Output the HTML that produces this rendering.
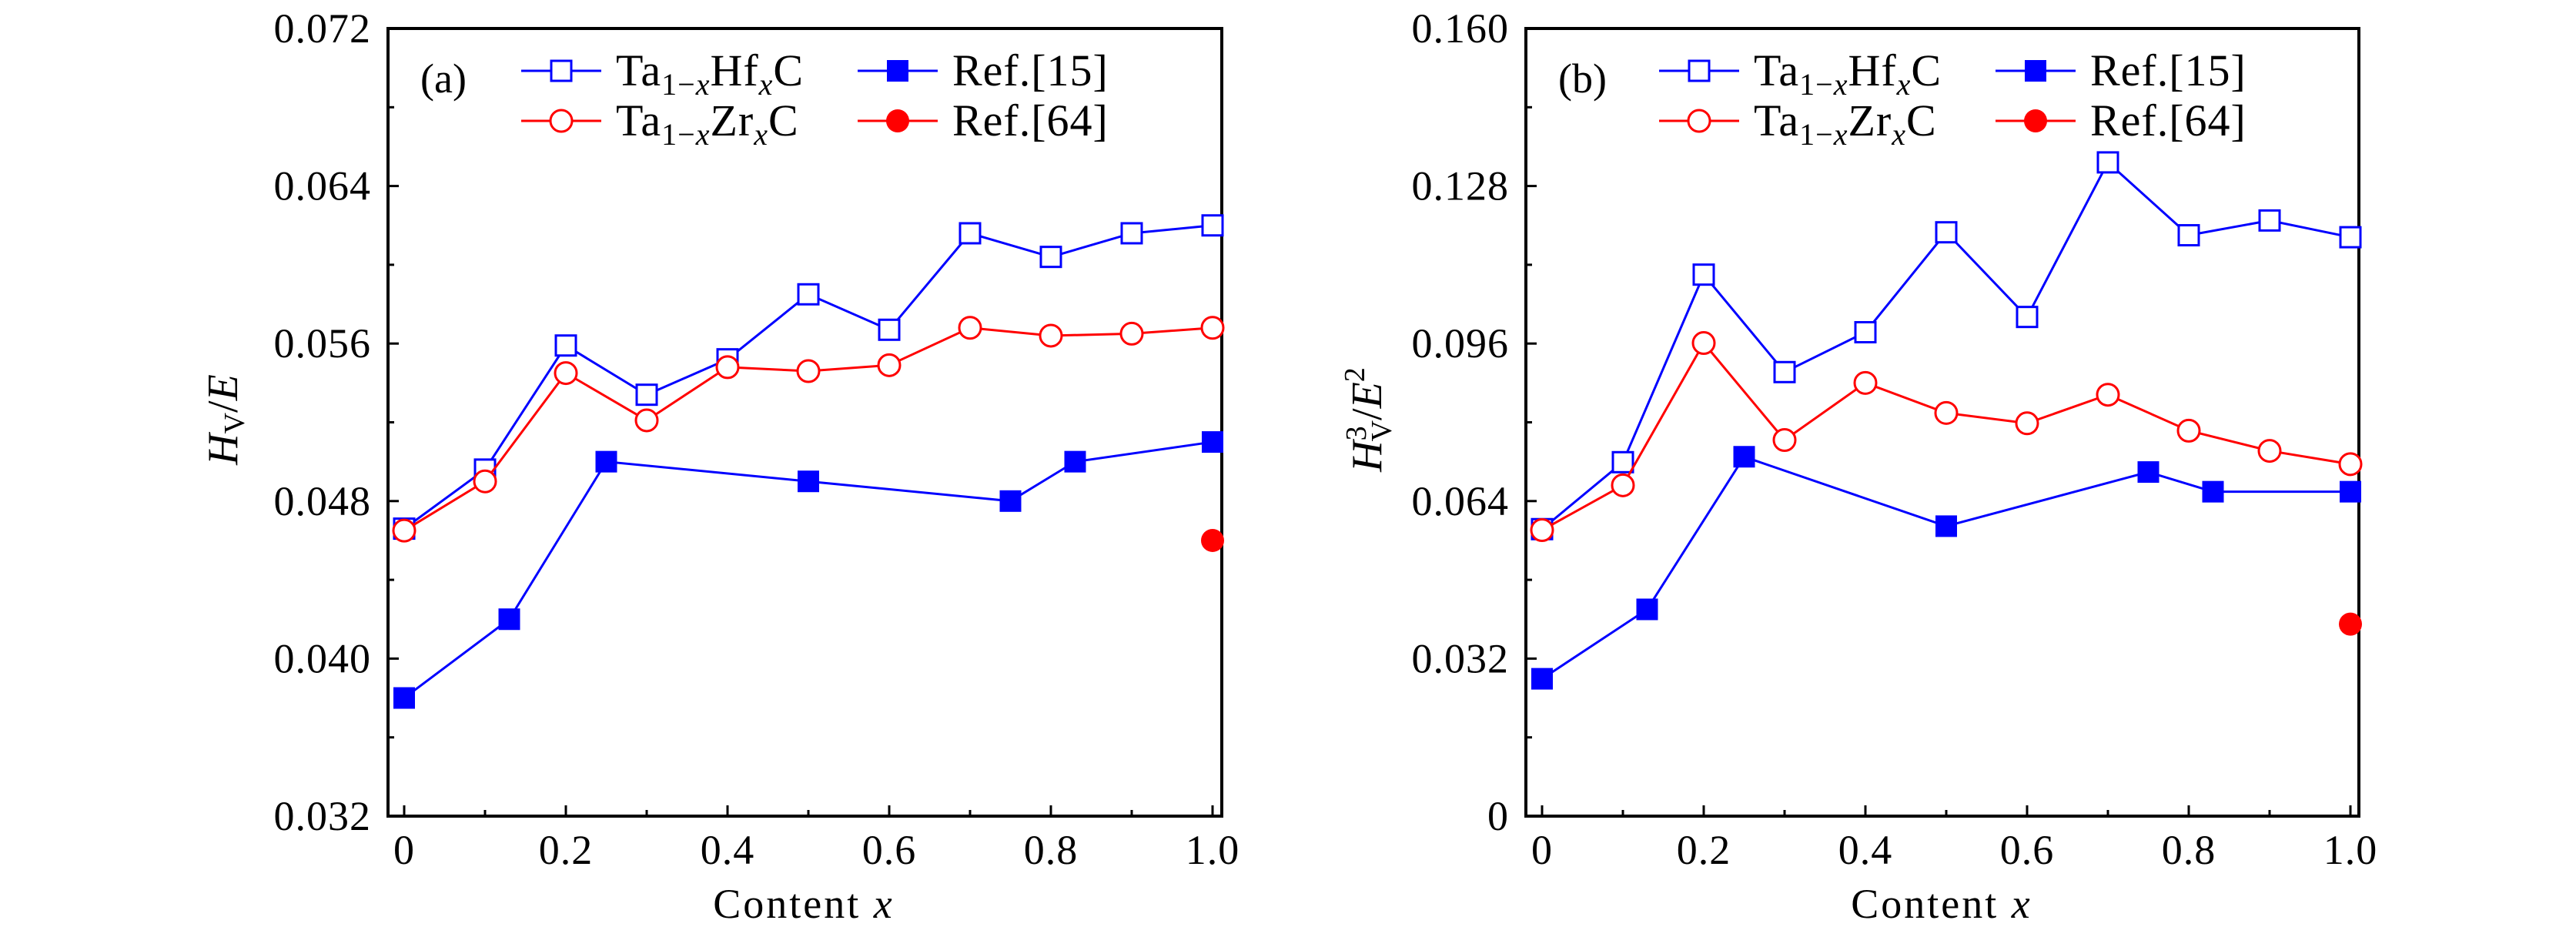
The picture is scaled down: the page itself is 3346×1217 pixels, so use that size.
<!DOCTYPE html>
<html><head><meta charset="utf-8"><style>
html,body{margin:0;padding:0;background:#fff;}
svg{display:block;font-family:"Liberation Serif",serif;}
</style></head><body>
<svg id="fig" width="3346" height="1217" viewBox="0 0 3346 1217" font-family="Liberation Serif, serif"></svg>
<script>
const xsMain = [0,0.1,0.2,0.3,0.4,0.5,0.6,0.7,0.8,0.9,1.0];
const xsRef15 = [0,0.13,0.25,0.5,0.75,0.83,1.0];
const xsRef64 = [1.0];
const xTicks = [0,0.2,0.4,0.6,0.8,1.0];
const xTickLabels = ["0","0.2","0.4","0.6","0.8","1.0"];

const aHf = [0.0466,0.0496,0.0559,0.0534,0.0552,0.0585,0.0567,0.0616,0.0604,0.0616,0.0620];
const aZr = [0.0465,0.0490,0.0545,0.0521,0.0548,0.0546,0.0549,0.0568,0.0564,0.0565,0.0568];
const aRef15 = [0.0380,0.0420,0.0500,0.0490,0.0480,0.0500,0.0510];
const aRef64 = [0.0460];
const aYTicks = [0.032,0.040,0.048,0.056,0.064,0.072];
const aYTickLabels = ["0.032","0.040","0.048","0.056","0.064","0.072"];

const bHf = [0.0583,0.0719,0.110,0.0902,0.0983,0.1186,0.1014,0.1328,0.118,0.121,0.1176];
const bZr = [0.0581,0.0672,0.0961,0.0764,0.0880,0.0819,0.0798,0.0856,0.0783,0.0742,0.0715];
const bRef15 = [0.0279,0.0420,0.0730,0.0589,0.0699,0.0659,0.0659];
const bRef64 = [0.0390];
const bYTicks = [0,0.032,0.064,0.096,0.128,0.160];
const bYTickLabels = ["0","0.032","0.064","0.096","0.128","0.160"];

const NS="http://www.w3.org/2000/svg";
const svg=document.getElementById('fig');
function mk(tag,attrs,parent){const e=document.createElementNS(NS,tag);for(const k in attrs)e.setAttribute(k,attrs[k]);(parent||svg).appendChild(e);return e;}
const BLUE="#0000ff", RED="#ff0000";

function panel(cfg){
  const g=mk('g',{});
  
  
  const L=cfg.left,R=cfg.right,T=37,B=1060,x0=cfg.x0,x1=cfg.x1;
  const ymin=cfg.yTicks[0],ymax=cfg.yTicks[cfg.yTicks.length-1];
  const sx=v=>x0+(x1-x0)*v;
  const sy=v=>B-(B-T)*(v-ymin)/(ymax-ymin);
  const box=mk('rect',{x:L,y:T,width:R-L,height:B-T,fill:'none',stroke:'#000','stroke-width':4},g);
  
  
  for(let i=0;i<cfg.yTicks.length;i++){
    const y=sy(cfg.yTicks[i]);
    mk('line',{x1:L,x2:L+14,y1:y,y2:y,stroke:'#000','stroke-width':3},g);
    if(i<cfg.yTicks.length-1){const ym=sy((cfg.yTicks[i]+cfg.yTicks[i+1])/2);mk('line',{x1:L,x2:L+8,y1:ym,y2:ym,stroke:'#000','stroke-width':3},g);}
    const t=mk('text',{x:L-22,y:y+18,'text-anchor':'end','font-size':54,'letter-spacing':1},g);
    t.textContent=cfg.yTickLabels[i];
    
    
  }
  for(let i=0;i<xTicks.length;i++){
    const x=sx(xTicks[i]);
    mk('line',{x1:x,x2:x,y1:B,y2:B-14,stroke:'#000','stroke-width':3},g);
    if(i<xTicks.length-1){const xm=sx(xTicks[i]+0.1);mk('line',{x1:xm,x2:xm,y1:B,y2:B-8,stroke:'#000','stroke-width':3},g);}
    const t=mk('text',{x:x,y:1122,'text-anchor':'middle','font-size':54,'letter-spacing':1},g);
    t.textContent=xTickLabels[i];
    
    
  }
  const xt=mk('text',{x:sx(0.5)-6,y:1192,'text-anchor':'middle','font-size':54,'letter-spacing':3},g);
  xt.innerHTML='Content <tspan font-style="italic">x</tspan>';
  
  
  const yt=mk('text',{x:0,y:0,'text-anchor':'middle','font-size':56,transform:`translate(${cfg.ytX},545) rotate(-90)`},g);
  yt.innerHTML=cfg.ytHTML;
  
  
  const pl=mk('text',{x:L+42,y:120,'font-size':54},g);
  pl.textContent=cfg.label;
  
  

  function series(xs,ys,color,marker,name,line){
    const sg=mk('g',{},g);
    
    
    if(line){
      const pts=xs.map((x,i)=>sx(x)+','+sy(ys[i])).join(' ');
      const p=mk('polyline',{points:pts,fill:'none',stroke:color,'stroke-width':3},sg);
      
      
    }
    xs.forEach((x,i)=>drawMarker(sg,sx(x),sy(ys[i]),color,marker,name+'-point'));
  }
  series(xsRef15,cfg.ref15,BLUE,'fsq','ref15-series',true);
  series(xsMain,cfg.hf,BLUE,'osq','hf-series',true);
  series(xsMain,cfg.zr,RED,'oci','zr-series',true);
  series(xsRef64,cfg.ref64,RED,'fci','ref64-series',false);

  const lg=mk('g',{},g);
  
  
  const ent=[[BLUE,'osq',0,92,'Ta<tspan font-size="40" dy="12">1−<tspan font-style="italic">x</tspan></tspan><tspan dy="-12">Hf</tspan><tspan font-size="40" dy="12" font-style="italic">x</tspan><tspan dy="-12">C</tspan>'],
             [RED,'oci',0,157,'Ta<tspan font-size="40" dy="12">1−<tspan font-style="italic">x</tspan></tspan><tspan dy="-12">Zr</tspan><tspan font-size="40" dy="12" font-style="italic">x</tspan><tspan dy="-12">C</tspan>'],
             [BLUE,'fsq',437,92,'Ref.[15]'],[RED,'fci',437,157,'Ref.[64]']];
  ent.forEach(e=>{
    const eg=mk('g',{},lg);
    
    
    const lx=L+173+e[2];
    mk('line',{x1:lx,x2:lx+104,y1:e[3],y2:e[3],stroke:e[0],'stroke-width':3},eg);
    drawMarker(eg,lx+52,e[3],e[0],e[1],'legend-marker');
    const t=mk('text',{x:lx+123,y:e[3]+19,'font-size':58,'letter-spacing':1},eg);
    t.innerHTML=e[4];
  });
}
function drawMarker(parent,x,y,color,type,name){
  let m;
  if(type==='osq') m=mk('rect',{x:x-13,y:y-13,width:26,height:26,fill:'#fff',stroke:color,'stroke-width':3},parent);
  else if(type==='fsq') m=mk('rect',{x:x-14,y:y-14,width:28,height:28,fill:color},parent);
  else if(type==='oci') m=mk('circle',{cx:x,cy:y,r:14,fill:'#fff',stroke:color,'stroke-width':3},parent);
  else m=mk('circle',{cx:x,cy:y,r:15,fill:color},parent);
  
  
}
panel({name:'panel-a',left:504,right:1587,x0:525,x1:1575,yTicks:aYTicks,yTickLabels:aYTickLabels,
  hf:aHf,zr:aZr,ref15:aRef15,ref64:aRef64,label:'(a)',ytX:308,
  ytHTML:'<tspan font-style="italic">H</tspan><tspan font-size="38" dy="9">V</tspan><tspan dy="-9">/</tspan><tspan font-style="italic">E</tspan>'});
panel({name:'panel-b',left:1982,right:3064,x0:2003,x1:3053,yTicks:bYTicks,yTickLabels:bYTickLabels,
  hf:bHf,zr:bZr,ref15:bRef15,ref64:bRef64,label:'(b)',ytX:1794,
  ytHTML:'<tspan font-style="italic">H</tspan><tspan font-size="38" dy="-20">3</tspan><tspan font-size="38" dx="-20" dy="33">V</tspan><tspan dy="-13">/</tspan><tspan font-style="italic">E</tspan><tspan font-size="38" dy="-22">2</tspan>'});
</script>
</body></html>
